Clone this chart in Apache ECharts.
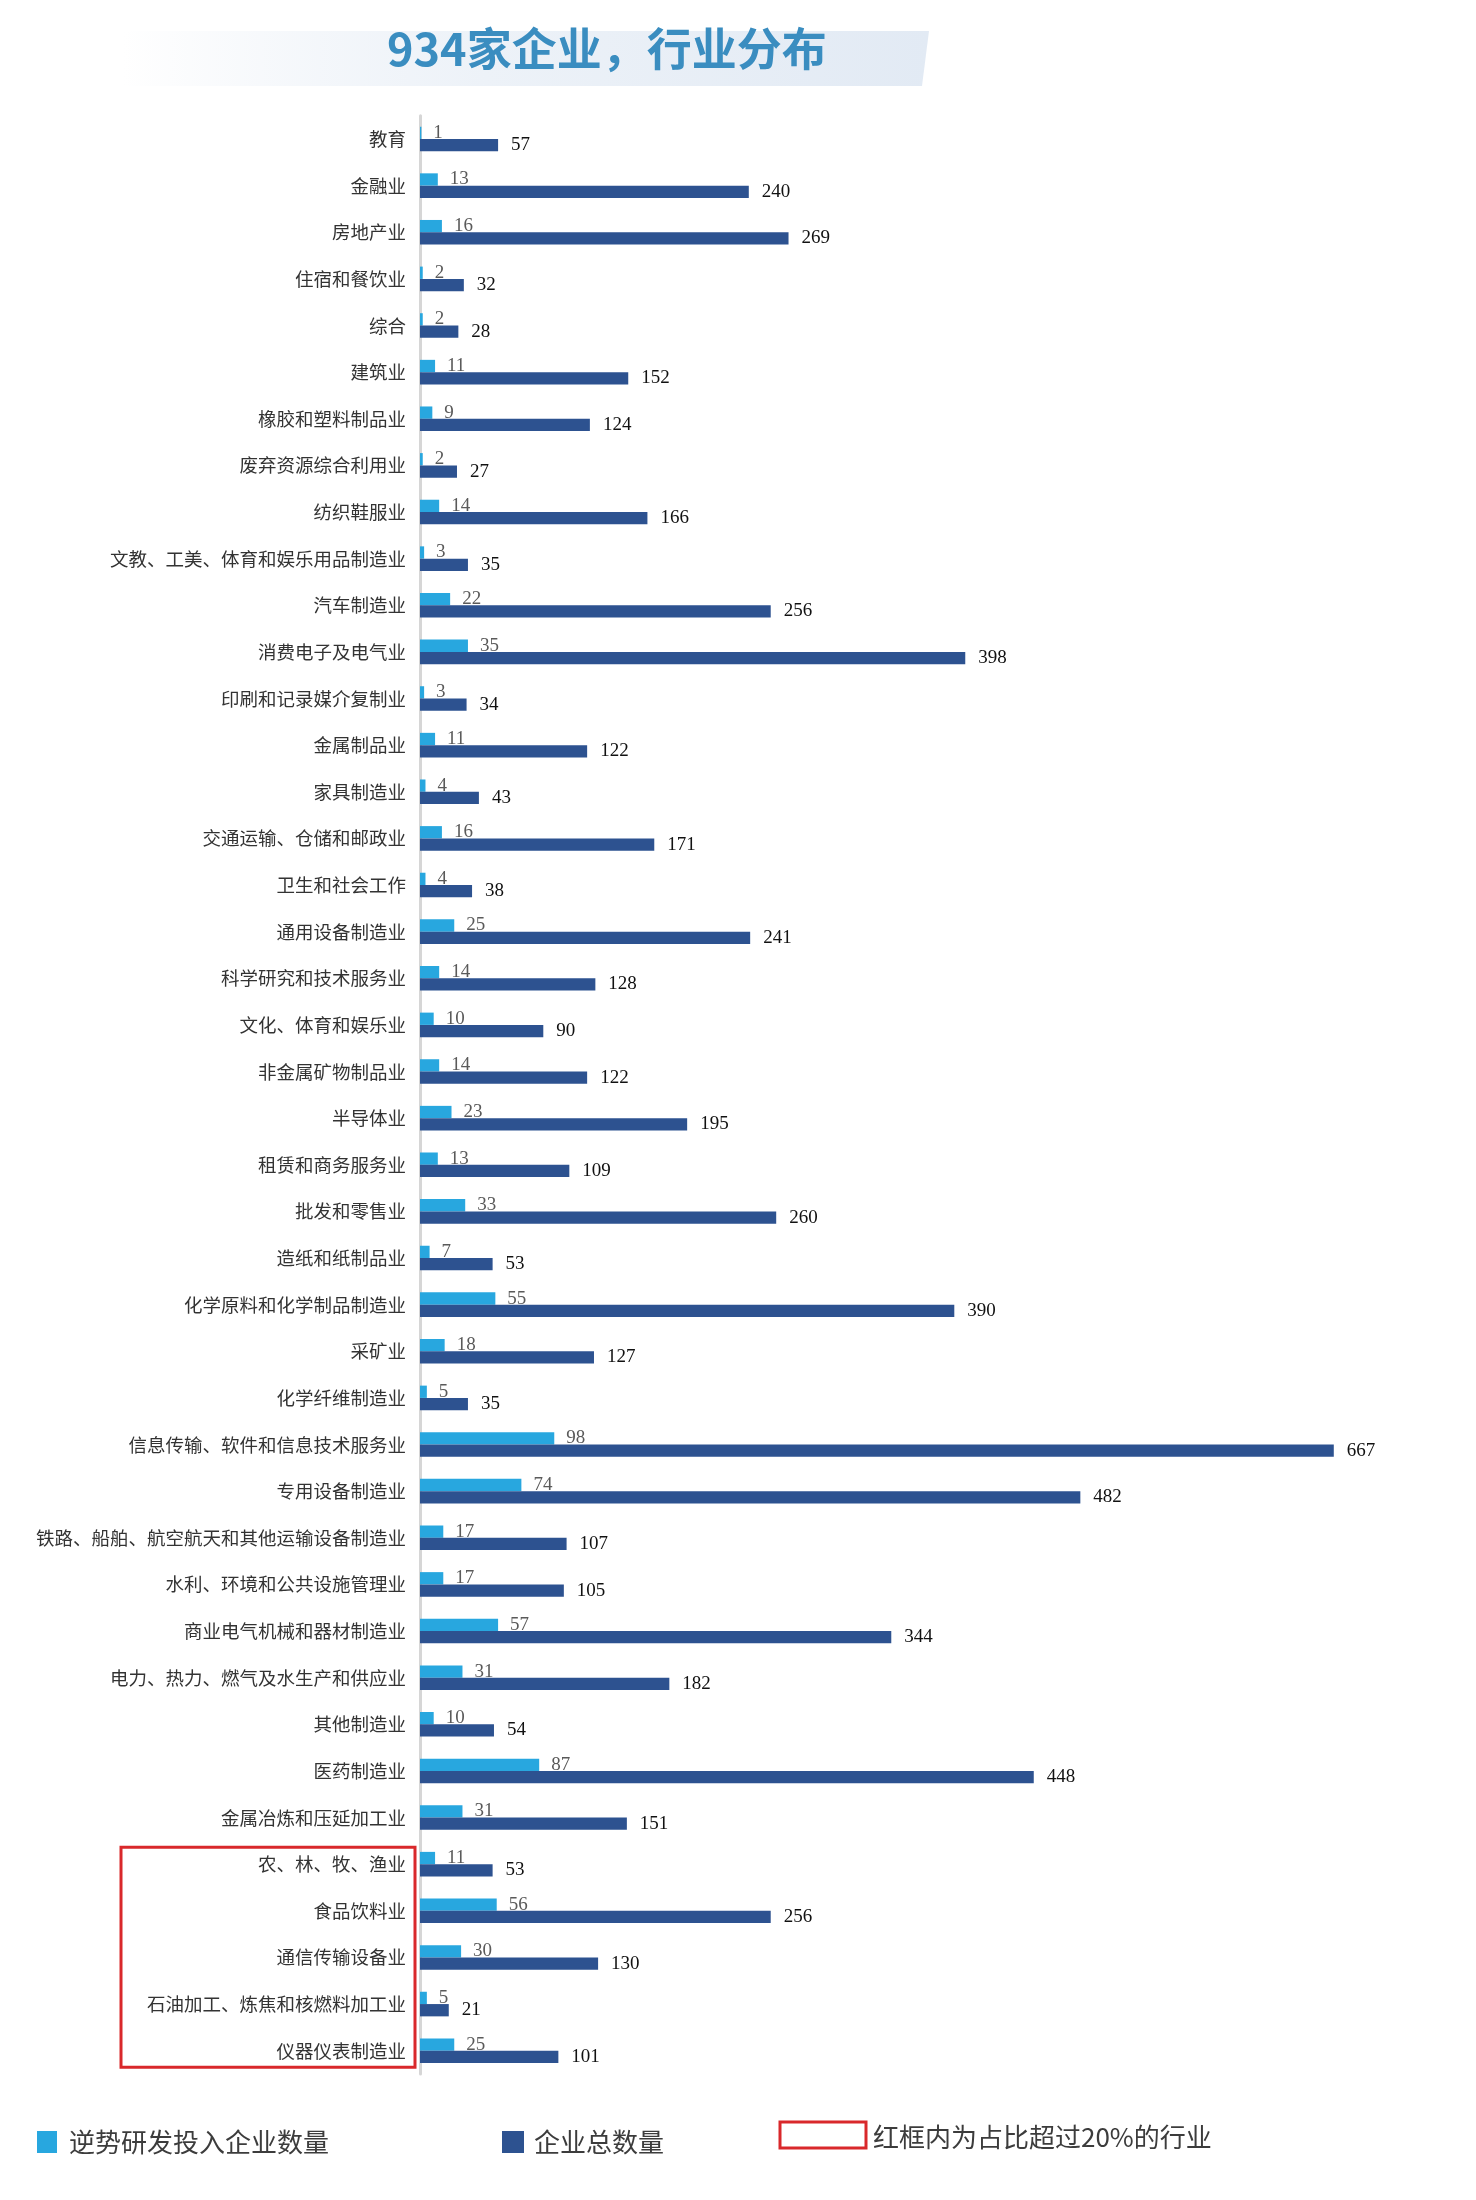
<!DOCTYPE html>
<html>
<head>
<meta charset="utf-8">
<script src="https://cdn.jsdelivr.net/npm/echarts@6/dist/echarts.min.js"></script>
<style>
  html, body { margin: 0; padding: 0; background: #fff; }
  #main { width: 1476px; height: 2200px; }
</style>
</head>
<body>
<div id="main"></div>
<script>
// 行业名称（自上而下）
const industries = [
  "教育", "金融业", "房地产业", "住宿和餐饮业", "综合", "建筑业",
  "橡胶和塑料制品业", "废弃资源综合利用业", "纺织鞋服业",
  "文教、工美、体育和娱乐用品制造业", "汽车制造业", "消费电子及电气业",
  "印刷和记录媒介复制业", "金属制品业", "家具制造业", "交通运输、仓储和邮政业",
  "卫生和社会工作", "通用设备制造业", "科学研究和技术服务业", "文化、体育和娱乐业",
  "非金属矿物制品业", "半导体业", "租赁和商务服务业", "批发和零售业",
  "造纸和纸制品业", "化学原料和化学制品制造业", "采矿业", "化学纤维制造业",
  "信息传输、软件和信息技术服务业", "专用设备制造业",
  "铁路、船舶、航空航天和其他运输设备制造业", "水利、环境和公共设施管理业",
  "商业电气机械和器材制造业", "电力、热力、燃气及水生产和供应业", "其他制造业",
  "医药制造业", "金属冶炼和压延加工业", "农、林、牧、渔业", "食品饮料业",
  "通信传输设备业", "石油加工、炼焦和核燃料加工业", "仪器仪表制造业"
];
// 逆势研发投入企业数量
const rdCounts = [
  1, 13, 16, 2, 2, 11, 9, 2, 14, 3, 22, 35, 3, 11, 4, 16, 4, 25, 14, 10,
  14, 23, 13, 33, 7, 55, 18, 5, 98, 74, 17, 17, 57, 31, 10, 87, 31,
  11, 56, 30, 5, 25
];
// 企业总数量
const totalCounts = [
  57, 240, 269, 32, 28, 152, 124, 27, 166, 35, 256, 398, 34, 122, 43, 171,
  38, 241, 128, 90, 122, 195, 109, 260, 53, 390, 127, 35, 667, 482, 107,
  105, 344, 182, 54, 448, 151, 53, 256, 130, 21, 101
];
// 红框内：占比超过20%的行业
const highlighted = ["农、林、牧、渔业", "食品饮料业", "通信传输设备业", "石油加工、炼焦和核燃料加工业", "仪器仪表制造业"];

const seriesNames = ["逆势研发投入企业数量", "企业总数量"];
const lightBlue = "#28a7df";
const darkBlue = "#2d5290";
const redBox = "#d9282b";
const cjk = "'Noto Sans CJK SC', 'Noto Sans', sans-serif";
const serif = "'Liberation Serif', 'DejaVu Serif', serif";

const chart = echarts.init(document.getElementById("main"));

const legendText = { fontFamily: cjk, fontSize: 26, color: "#3c3c3c" };

const option = {
  animation: false,
  backgroundColor: "#fff",
  title: {
    text: "934家企业，行业分布",
    left: 387,
    top: 26,
    padding: 0,
    textStyle: { fontFamily: cjk, fontSize: 45, fontWeight: "bold", color: "#3a8dc0" },
  },
  legend: [
    {
      data: [seriesNames[0]],
      left: 37,
      top: 2129,
      padding: 0,
      itemWidth: 20,
      itemHeight: 22,
      icon: "rect",
      textStyle: Object.assign({ padding: [0, 0, 0, 7] }, legendText),
    },
    {
      data: [seriesNames[1]],
      left: 502,
      top: 2129,
      padding: 0,
      itemWidth: 22,
      itemHeight: 22,
      icon: "rect",
      textStyle: Object.assign({ padding: [0, 0, 0, 5] }, legendText),
    },
  ],
  grid: {
    left: 420,
    top: 115.7,
    width: 959,
    height: 1958.3,
    containLabel: false,
  },
  xAxis: {
    type: "value",
    min: 0,
    max: 700,
    show: false,
  },
  yAxis: {
    type: "category",
    inverse: true,
    data: industries,
    axisLine: { show: true, lineStyle: { color: "#d6d6d6", width: 3 } },
    axisTick: { show: false },
    axisLabel: { fontFamily: cjk, fontSize: 18.5, color: "#333", margin: 14 },
  },
  series: [
    {
      name: seriesNames[0],
      type: "bar",
      data: rdCounts,
      barWidth: 12.3,
      barGap: "0%",
      itemStyle: { color: lightBlue },
      label: {
        show: true,
        position: "right",
        distance: 12,
        fontFamily: serif,
        fontSize: 19,
        color: "#5a5a5a",
      },
    },
    {
      name: seriesNames[1],
      type: "bar",
      data: totalCounts,
      barWidth: 12.3,
      itemStyle: { color: darkBlue },
      label: {
        show: true,
        position: "right",
        distance: 13,
        fontFamily: serif,
        fontSize: 19,
        color: "#111",
      },
    },
  ],
};

chart.setOption(option);

// 标题底纹、红框及其图例，位置由坐标轴换算
function drawDecorations() {
  const first = chart.convertToPixel({ yAxisIndex: 0 }, highlighted[0]);
  const last = chart.convertToPixel({ yAxisIndex: 0 }, highlighted[highlighted.length - 1]);
  const axisX = chart.convertToPixel({ xAxisIndex: 0 }, 0);
  chart.setOption({
    graphic: [
      {
        type: "polygon",
        z: -10,
        shape: { points: [[123, 31], [929, 31], [922, 86], [123, 86]] },
        style: {
          fill: new echarts.graphic.LinearGradient(0, 0, 1, 0, [
            { offset: 0, color: "rgba(232,238,246,0)" },
            { offset: 0.45, color: "#edf2f8" },
            { offset: 1, color: "#e2eaf4" },
          ]),
        },
      },
      {
        type: "rect",
        shape: { x: 121, y: first - 17, width: axisX - 5 - 121, height: last - first + 33.5 },
        style: { fill: "none", stroke: redBox, lineWidth: 3 },
      },
      {
        type: "rect",
        shape: { x: 780, y: 2122, width: 86, height: 26 },
        style: { fill: "#fff", stroke: redBox, lineWidth: 3 },
      },
      {
        type: "text",
        x: 873,
        y: 2137,
        style: {
          text: "红框内为占比超过20%的行业",
          fontFamily: cjk,
          fontSize: 26,
          fill: "#3c3c3c",
          verticalAlign: "middle",
        },
      },
    ],
  });
}
drawDecorations();
</script>
</body>
</html>
